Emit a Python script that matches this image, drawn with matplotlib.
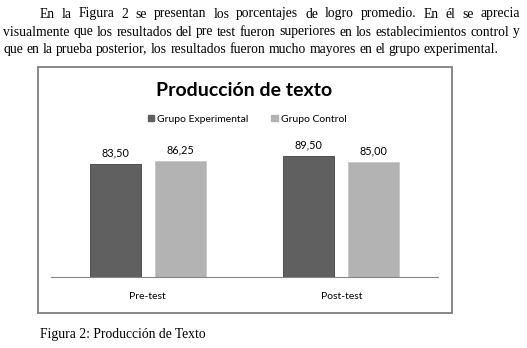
import numpy as np
import matplotlib
matplotlib.use('Agg')
import matplotlib.pyplot as plt
from matplotlib.patches import Rectangle, Patch

# data
categories = ['Pre-test', 'Post-test']
experimental = [83.50, 89.50]
control = [86.25, 85.00]
series_names = ['Grupo Experimental', 'Grupo Control']
title = 'Producción de texto'
paragraph = [
    'En la Figura 2 se presentan los porcentajes de logro promedio. En él se aprecia',
    'visualmente que los resultados del pre test fueron superiores  en los establecimientos control y',
    'que en la prueba posterior, los resultados fueron mucho mayores en el grupo experimental.',
]
caption = 'Figura 2: Producción de Texto'

W, H = 527, 348
fig = plt.figure(figsize=(W / 100, H / 100), dpi=100)
renderer = fig.canvas.get_renderer()

def fx(px):
    return px / W

def fy(py):
    return 1 - py / H

serif = 'Liberation Serif'
psize = 9.8

# word by word so the lines come out justified like the document
def justified(line, x0, x1, ybase, justify=True):
    words = line.split()
    texts = [fig.text(0, fy(ybase), w, family=serif, fontsize=psize, va='baseline', ha='left')
             for w in words]
    widths = [t.get_window_extent(renderer).width for t in texts]
    if justify and len(words) > 1:
        gap = (x1 - x0 - sum(widths)) / (len(words) - 1)
    else:
        sp = fig.text(0, 0, 'a a', family=serif, fontsize=psize)
        aa = fig.text(0, 0, 'aa', family=serif, fontsize=psize)
        gap = sp.get_window_extent(renderer).width - aa.get_window_extent(renderer).width
        sp.remove(); aa.remove()
    x = x0
    for t, w in zip(texts, widths):
        t.set_x(fx(x))
        x += w + gap

justified(paragraph[0], 40, 520, 17.5)
justified(paragraph[1], 3, 520, 35.5)
justified(paragraph[2], 3, 520, 53, justify=False)

fig.text(fx(40), fy(338), caption, family=serif, fontsize=psize, va='baseline')

# chart frame
fig.patches.append(Rectangle((fx(38), fy(313)), fx(452) - fx(38), fy(67) - fy(313),
                             transform=fig.transFigure, fill=False,
                             edgecolor='#7f7f7f', linewidth=1.3))

fig.text(fx(244), fy(96), title, family='Lato', fontsize=14, fontweight='bold',
         ha='center', va='baseline')

ax = fig.add_axes([fx(51), fy(277), fx(438) - fx(51), fy(142) - fy(277)])
x = np.arange(len(categories))
w = 0.264
off = 0.168
dark = '#606060'
light = '#b3b3b3'
b1 = ax.bar(x - off, experimental, w, color=dark, edgecolor='#404040', linewidth=0.6)
b2 = ax.bar(x + off, control, w, color=light, edgecolor='#c8c8c8', linewidth=0.6)
for bars, vals in [(b1, experimental), (b2, control)]:
    for r, v in zip(bars, vals):
        ax.annotate(('%.2f' % v).replace('.', ','), (r.get_x() + r.get_width() / 2, v),
                    xytext=(0, 4), textcoords='offset points', ha='center', va='bottom',
                    family='Lato', fontsize=7.8)

ax.set_xlim(-0.5, 1.5)
ax.set_ylim(0, 100)
ax.set_yticks([])
ax.set_xticks(x)
ax.set_xticklabels(categories, family='Lato', fontsize=7.5)
ax.tick_params(axis='x', length=0, pad=11)
for s in ['top', 'right', 'left']:
    ax.spines[s].set_visible(False)
ax.spines['bottom'].set_color('#868686')
ax.patch.set_visible(False)

handles = [Patch(color=dark), Patch(color=light)]
fig.legend(handles, series_names, loc='center', bbox_to_anchor=(fx(247), fy(119)),
           ncol=2, frameon=False, prop={'family': 'Lato', 'size': 7.5},
           handlelength=0.6, handleheight=0.6, handletextpad=0.3, columnspacing=2.2)

fig.savefig('out.png', dpi=100)
